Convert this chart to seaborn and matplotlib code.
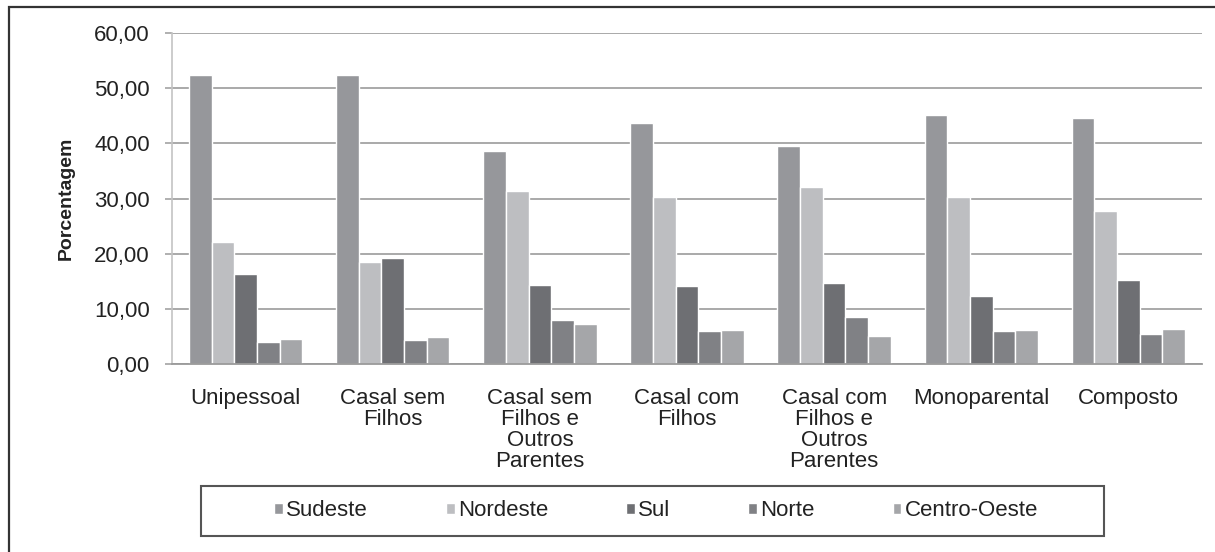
import matplotlib
matplotlib.use("Agg")
import matplotlib.pyplot as plt
from matplotlib.patches import Rectangle
from matplotlib.ticker import FuncFormatter
import seaborn as sns
import pandas as pd

# Dados (porcentagem por tipo de arranjo domiciliar e região)
arranjos = ['Unipessoal', 'Casal sem\nFilhos', 'Casal sem\nFilhos e\nOutros\nParentes',
            'Casal com\nFilhos', 'Casal com\nFilhos e\nOutros\nParentes', 'Monoparental', 'Composto']
regioes = ['Sudeste', 'Nordeste', 'Sul', 'Norte', 'Centro-Oeste']

sudeste = [52.4, 52.4, 38.7, 43.6, 39.5, 45.2, 44.6]
nordeste = [22.1, 18.4, 31.3, 30.2, 32.1, 30.2, 27.8]
sul = [16.4, 19.3, 14.4, 14.1, 14.7, 12.3, 15.3]
norte = [4.0, 4.3, 7.9, 5.9, 8.5, 5.9, 5.5]
centro_oeste = [4.5, 4.9, 7.3, 6.1, 5.0, 6.1, 6.3]

cores = ['#96979b', '#bdbec1', '#6e6f73', '#808185', '#a5a6a9']

valores = [sudeste, nordeste, sul, norte, centro_oeste]
linhas = []
for reg, vals in zip(regioes, valores):
    for arr, v in zip(arranjos, vals):
        linhas.append({'arranjo': arr, 'regiao': reg, 'pct': v})
df = pd.DataFrame(linhas)

sns.set_theme(style='white')
plt.rcParams['font.family'] = ['Liberation Sans', 'DejaVu Sans']

fig = plt.figure(figsize=(12.15, 5.52), dpi=100)
ax = fig.add_axes([172 / 1215, 1 - 364 / 552, 1030 / 1215, 331 / 552])

sns.barplot(data=df, x='arranjo', y='pct', hue='regiao', order=arranjos,
            hue_order=regioes, palette=cores, width=0.77, gap=0,
            saturation=1, ax=ax, legend=True)

ax.set_ylim(0, 60)
ax.set_yticks(range(0, 61, 10))
ax.yaxis.set_major_formatter(FuncFormatter(lambda v, p: f'{v:.2f}'.replace('.', ',')))
ax.yaxis.grid(True, color='#a3a3a3', linewidth=1.3)
ax.set_axisbelow(True)
ax.set_xlim(-0.5, 6.5)

for s in ['top', 'right']:
    ax.spines[s].set_visible(False)
ax.spines['left'].set_color('#c4c4c4')
ax.spines['left'].set_linewidth(1.2)
ax.spines['bottom'].set_color('#9a9a9a')
ax.spines['bottom'].set_linewidth(1.3)

ax.tick_params(axis='y', left=True, length=5, width=1.2, color='#a3a3a3',
               pad=11, labelsize=16, labelcolor='#222222')
ax.tick_params(axis='x', bottom=False, pad=11, labelsize=16, labelcolor='#222222')
for lab in ax.get_xticklabels():
    lab.set_linespacing(1.0)

ax.set_xlabel('')
ax.set_ylabel('Porcentagem', fontsize=14, fontweight='bold', color='#222222', labelpad=14)

# caixa da legenda
fig.add_artist(Rectangle((201 / 1215, 1 - 536 / 552), 903 / 1215, 50 / 552,
                         transform=fig.transFigure, fill=False,
                         edgecolor='#555555', linewidth=1.5))

handles, labels = ax.get_legend_handles_labels()
ax.legend(handles, labels, ncol=5, loc='center',
          bbox_to_anchor=(656 / 1215, 1 - 511 / 552),
          bbox_transform=fig.transFigure, frameon=False,
          fontsize=16, handlelength=0.4, handleheight=0.4,
          handletextpad=0.15, columnspacing=3.5)
for t in ax.get_legend().get_texts():
    t.set_color('#222222')

# moldura externa (só topo e esquerda visíveis)
fig.add_artist(Rectangle((9 / 1215, -0.1), 1.2, 1 - 7 / 552 + 0.1,
                         transform=fig.transFigure, fill=False,
                         edgecolor='#333333', linewidth=1.6))

fig.savefig('out.png', dpi=100)
